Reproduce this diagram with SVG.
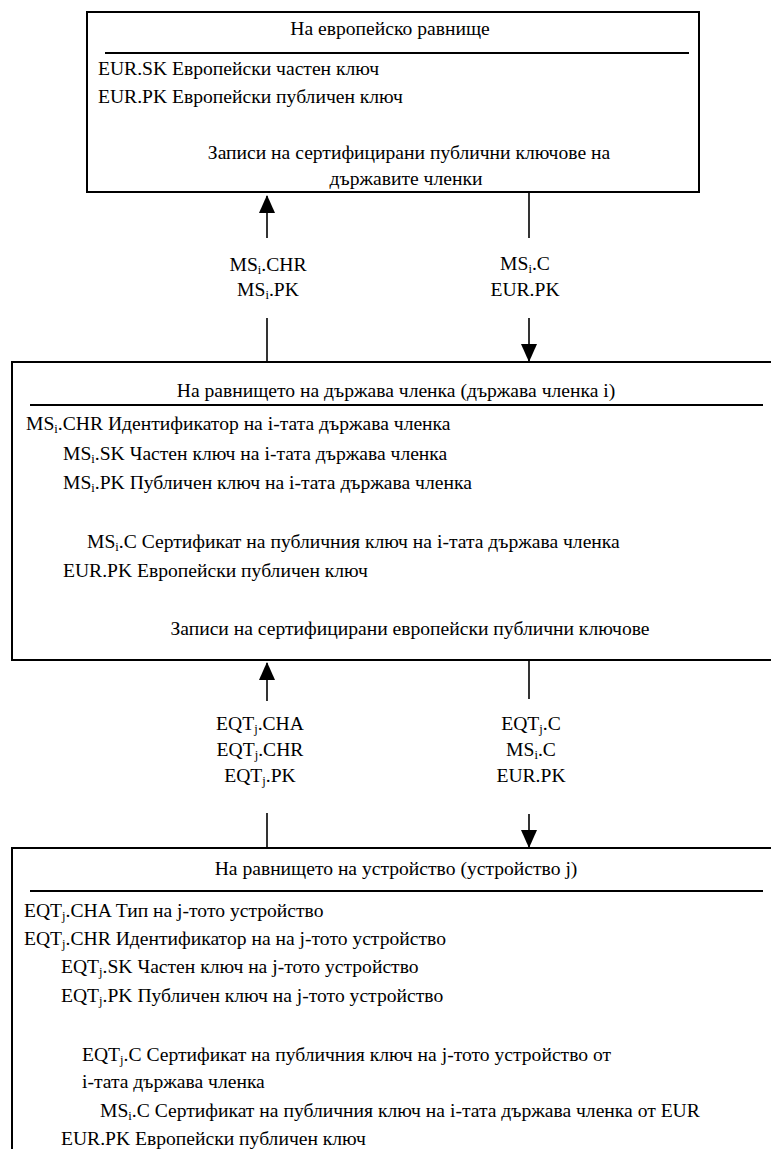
<svg xmlns="http://www.w3.org/2000/svg" width="771" height="1149" viewBox="0 0 771 1149">
  <style>
    text { font-family: "Liberation Serif", "DejaVu Serif", serif; font-size: 19.6px; fill: #000; }
    .c { text-anchor: middle; }
    .box { fill: #fff; stroke: #000; stroke-width: 2; }
    .rule { stroke: #000; stroke-width: 2; }
    .wire { stroke: #000; stroke-width: 1.6; fill: none; }
    .sub { font-size: 12.5px; }
  </style>
  <defs>
    <marker id="head" viewBox="0 0 18 16" refX="17" refY="8" markerWidth="18" markerHeight="16" orient="auto" markerUnits="userSpaceOnUse">
      <path d="M0,0 L18,8 L0,16 Z" fill="#000"/>
    </marker>
  </defs>

  <!-- European level -->
  <g id="eur-level">
    <rect class="box" x="87" y="12" width="612" height="180"/>
    <text class="c" x="390" y="35">На европейско равнище</text>
    <line class="rule" x1="105" y1="53" x2="689" y2="53"/>
    <text x="98" y="75">EUR.SK Европейски частен ключ</text>
    <text x="98" y="103">EUR.PK Европейски публичен ключ</text>
    <text class="c" x="409" y="159">Записи на сертифицирани публични ключове на</text>
    <text class="c" x="406" y="185">държавите членки</text>
  </g>

  <!-- Member state level -->
  <g id="ms-level">
    <rect class="box" x="12" y="362" width="770" height="298"/>
    <text class="c" x="396" y="397">На равнището на държава членка (държава членка i)</text>
    <line class="rule" x1="30" y1="405" x2="763" y2="405"/>
    <text x="26" y="430">MS<tspan class="sub" dy="3">i</tspan><tspan dy="-3">.CHR Идентификатор на i-тата държава членка</tspan></text>
    <text x="63" y="460">MS<tspan class="sub" dy="3">i</tspan><tspan dy="-3">.SK Частен ключ на i-тата държава членка</tspan></text>
    <text x="63" y="489">MS<tspan class="sub" dy="3">i</tspan><tspan dy="-3">.PK Публичен ключ на i-тата държава членка</tspan></text>
    <text x="87" y="548">MS<tspan class="sub" dy="3">i</tspan><tspan dy="-3">.C Сертификат на публичния ключ на i-тата държава членка</tspan></text>
    <text x="63" y="577">EUR.PK Европейски публичен ключ</text>
    <text class="c" x="410" y="635">Записи на сертифицирани европейски публични ключове</text>
  </g>

  <!-- Equipment level -->
  <g id="eqt-level">
    <rect class="box" x="12" y="848" width="770" height="320"/>
    <text class="c" x="396" y="875">На равнището на устройство (устройство j)</text>
    <line class="rule" x1="30" y1="891" x2="763" y2="891"/>
    <text x="24" y="917">EQT<tspan class="sub" dy="3">j</tspan><tspan dy="-3">.CHA Тип на j-тото устройство</tspan></text>
    <text x="24" y="945">EQT<tspan class="sub" dy="3">j</tspan><tspan dy="-3">.CHR Идентификатор на на j-тото устройство</tspan></text>
    <text x="61" y="973">EQT<tspan class="sub" dy="3">j</tspan><tspan dy="-3">.SK Частен ключ на j-тото устройство</tspan></text>
    <text x="61" y="1002">EQT<tspan class="sub" dy="3">j</tspan><tspan dy="-3">.PK Публичен ключ на j-тото устройство</tspan></text>
    <text x="82" y="1061">EQT<tspan class="sub" dy="3">j</tspan><tspan dy="-3">.C Сертификат на публичния ключ на j-тото устройство от</tspan></text>
    <text x="82" y="1088">i-тата държава членка</text>
    <text x="100" y="1117">MS<tspan class="sub" dy="3">i</tspan><tspan dy="-3">.C Сертификат на публичния ключ на i-тата държава членка от EUR</tspan></text>
    <text x="61" y="1145">EUR.PK Европейски публичен ключ</text>
  </g>

  <!-- Connectors between levels -->
  <g id="connectors">
    <!-- member state to European level -->
    <line class="wire" x1="267" y1="238" x2="267" y2="196" marker-end="url(#head)"/>
    <line class="wire" x1="267" y1="318" x2="267" y2="362"/>
    <line class="wire" x1="529" y1="192" x2="529" y2="238"/>
    <line class="wire" x1="529" y1="318" x2="529" y2="361" marker-end="url(#head)"/>
    <!-- equipment to member state level -->
    <line class="wire" x1="267" y1="701" x2="267" y2="663" marker-end="url(#head)"/>
    <line class="wire" x1="267" y1="813" x2="267" y2="848"/>
    <line class="wire" x1="529" y1="660" x2="529" y2="699"/>
    <line class="wire" x1="529" y1="814" x2="529" y2="847" marker-end="url(#head)"/>
  </g>

  <!-- Connector labels -->
  <g id="labels">
    <text class="c" x="268" y="271">MS<tspan class="sub" dy="3">i</tspan><tspan dy="-3">.CHR</tspan></text>
    <text class="c" x="268" y="296">MS<tspan class="sub" dy="3">i</tspan><tspan dy="-3">.PK</tspan></text>
    <text class="c" x="525" y="270">MS<tspan class="sub" dy="3">i</tspan><tspan dy="-3">.C</tspan></text>
    <text class="c" x="525" y="296">EUR.PK</text>
    <text class="c" x="260" y="730">EQT<tspan class="sub" dy="3">j</tspan><tspan dy="-3">.CHA</tspan></text>
    <text class="c" x="260" y="756">EQT<tspan class="sub" dy="3">j</tspan><tspan dy="-3">.CHR</tspan></text>
    <text class="c" x="260" y="782">EQT<tspan class="sub" dy="3">j</tspan><tspan dy="-3">.PK</tspan></text>
    <text class="c" x="531" y="730">EQT<tspan class="sub" dy="3">j</tspan><tspan dy="-3">.C</tspan></text>
    <text class="c" x="531" y="756">MS<tspan class="sub" dy="3">i</tspan><tspan dy="-3">.C</tspan></text>
    <text class="c" x="531" y="782">EUR.PK</text>
  </g>
</svg>
